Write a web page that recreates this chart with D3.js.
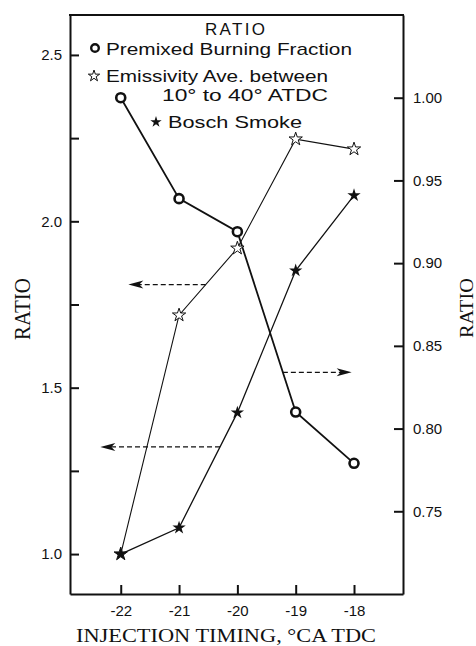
<!DOCTYPE html>
<html>
<head>
<meta charset="utf-8">
<script src="https://cdn.jsdelivr.net/npm/d3@7"></script>
<style>
  body { margin: 0; background: #fff; }
  svg { display: block; }
</style>
</head>
<body>
<div id="chart"></div>
<script>
// injection timing (°CA TDC)
let timing = [-22, -21, -20, -19, -18];

// series
let premixed = [1.000, 0.939, 0.919, 0.810, 0.779];   // right axis
let emissivity = [1.00, 1.718, 1.919, 2.247, 2.217];  // left axis
let bosch = [1.00, 1.079, 1.425, 1.852, 2.078];       // left axis

let leftTicks = [1.0, 1.5, 2.0, 2.5];
let leftMinor = [1.25, 1.75, 2.25];
let rightTicks = [0.75, 0.80, 0.85, 0.90, 0.95, 1.00];

// arrows: which series, value on its axis, x where arrow ends
let arrows = [
	{ series: "emissivity", value: 1.81, endX: -21.87 },
	{ series: "bosch", value: 1.322, endX: -22.35 },
	{ series: "premixed", value: 0.834, endX: -18.04 }
];

let width = 476, height = 646;
let plotL = 70, plotR = 403, plotT = 15, plotB = 594;

let svg = d3.select("#chart").append("svg")
	.attr("width", width)
	.attr("height", height);

let x = d3.scaleLinear().domain([-22.87, -17.16]).range([plotL, plotR]);
let yL = d3.scaleLinear().domain([0.88, 2.62]).range([plotB, plotT]);
let yR = d3.scaleLinear().domain([0.70, 1.05]).range([plotB, plotT]);

let sans = "'Liberation Sans', Arial, sans-serif";
let serif = "'Liberation Serif', 'DejaVu Serif', serif";

// axes
svg.append("g")
	.attr("transform", "translate(" + plotL + ",0)")
	.call(d3.axisLeft(yL).tickValues(leftTicks).tickFormat(d3.format(".1f"))
		.tickSize(-9).tickSizeOuter(0).tickPadding(8));

svg.append("g")
	.attr("transform", "translate(" + plotL + ",0)")
	.call(d3.axisLeft(yL).tickValues(leftMinor).tickFormat("")
		.tickSize(-9).tickSizeOuter(0))
	.select(".domain").remove();

svg.append("g")
	.attr("transform", "translate(" + plotR + ",0)")
	.call(d3.axisRight(yR).tickValues(rightTicks).tickFormat(d3.format(".2f"))
		.tickSize(-9).tickSizeOuter(0).tickPadding(10));

svg.append("g")
	.attr("transform", "translate(0," + plotB + ")")
	.call(d3.axisBottom(x).tickValues(timing).tickFormat(d => "-" + Math.abs(d))
		.tickSize(-9).tickSizeOuter(0).tickPadding(11));

svg.selectAll(".domain").attr("stroke-width", 2).attr("stroke", "#111");
svg.selectAll(".tick line").attr("stroke-width", 2).attr("stroke", "#111");
svg.selectAll(".tick text")
	.attr("font-family", sans)
	.attr("font-size", 15)
	.attr("fill", "#111");

// top frame line
svg.append("line")
	.attr("x1", plotL - 1).attr("x2", plotR + 1)
	.attr("y1", plotT).attr("y2", plotT)
	.attr("stroke", "#111").attr("stroke-width", 2);

// series lines
let lineL = d3.line().x((d, i) => x(timing[i])).y(d => yL(d));
let lineR = d3.line().x((d, i) => x(timing[i])).y(d => yR(d));

svg.append("path").datum(premixed)
	.attr("d", lineR).attr("fill", "none")
	.attr("stroke", "#111").attr("stroke-width", 1.8);

svg.append("path").datum(emissivity)
	.attr("d", lineL).attr("fill", "none")
	.attr("stroke", "#111").attr("stroke-width", 1.1);

svg.append("path").datum(bosch)
	.attr("d", lineL).attr("fill", "none")
	.attr("stroke", "#111").attr("stroke-width", 1.3);

// markers
let star = d3.symbol().type(d3.symbolStar);

svg.selectAll(".em").data(emissivity).enter()
	.append("path").attr("class", "em")
	.attr("d", star.size(55))
	.attr("transform", (d, i) => "translate(" + x(timing[i]) + "," + yL(d) + ")")
	.attr("fill", "#fff").attr("stroke", "#111").attr("stroke-width", 1);

svg.selectAll(".bo").data(bosch).enter()
	.append("path").attr("class", "bo")
	.attr("d", star.size(55))
	.attr("transform", (d, i) => "translate(" + x(timing[i]) + "," + yL(d) + ")")
	.attr("fill", "#111");

svg.selectAll(".pm").data(premixed).enter()
	.append("circle").attr("class", "pm")
	.attr("cx", (d, i) => x(timing[i]))
	.attr("cy", d => yR(d))
	.attr("r", 4.5)
	.attr("fill", "#fff").attr("stroke", "#111").attr("stroke-width", 2.6);

// arrows pointing to the relevant axis
let seriesData = { premixed: premixed, emissivity: emissivity, bosch: bosch };

function crossX(vals, v) {
	for (let i = 0; i < vals.length - 1; i++) {
		let a = vals[i], b = vals[i + 1];
		if ((v - a) * (v - b) <= 0 && a !== b) {
			return timing[i] + (v - a) / (b - a) * (timing[i + 1] - timing[i]);
		}
	}
	return timing[0];
}

arrows.forEach(a => {
	let ys = a.series === "premixed" ? yR : yL;
	let py = ys(a.value);
	let x0 = x(crossX(seriesData[a.series], a.value));
	let x1 = x(a.endX);
	let dir = x1 < x0 ? 1 : -1;
	svg.append("line")
		.attr("x1", x0).attr("x2", x1 + dir * 10)
		.attr("y1", py).attr("y2", py)
		.attr("stroke", "#111").attr("stroke-width", 1.3)
		.attr("stroke-dasharray", "5,3");
	svg.append("path")
		.attr("d", "M" + x1 + "," + py +
			"L" + (x1 + dir * 15) + "," + (py - 4) +
			"L" + (x1 + dir * 11) + "," + py +
			"L" + (x1 + dir * 15) + "," + (py + 4) + "Z")
		.attr("fill", "#111");
});

// legend
let legend = svg.append("g").attr("font-family", sans).attr("fill", "#111");

legend.append("text").attr("x", 205).attr("y", 35)
	.attr("font-size", 17).attr("textLength", 60).text("RATIO");

let legendRows = [
	{ label: "Premixed Burning Fraction", x: 106, y: 55, len: 246, mark: "circle", mx: 95, my: 48 },
	{ label: "Emissivity Ave. between", x: 106, y: 82, len: 222, mark: "open", mx: 94, my: 76 },
	{ label: "10° to 40° ATDC", x: 162, y: 101, len: 166, mark: null },
	{ label: "Bosch Smoke", x: 168, y: 128, len: 134, mark: "filled", mx: 156, my: 122 }
];

legendRows.forEach(r => {
	legend.append("text").attr("x", r.x).attr("y", r.y)
		.attr("font-size", 17)
		.attr("textLength", r.len).attr("lengthAdjust", "spacingAndGlyphs")
		.text(r.label);
	if (r.mark === "circle") {
		legend.append("circle").attr("cx", r.mx).attr("cy", r.my).attr("r", 3.8)
			.attr("fill", "#fff").attr("stroke", "#111").attr("stroke-width", 2.4);
	} else if (r.mark === "open") {
		legend.append("path").attr("d", star.size(40))
			.attr("transform", "translate(" + r.mx + "," + r.my + ")")
			.attr("fill", "#fff").attr("stroke", "#111").attr("stroke-width", 1);
	} else if (r.mark === "filled") {
		legend.append("path").attr("d", star.size(40))
			.attr("transform", "translate(" + r.mx + "," + r.my + ")")
			.attr("fill", "#111");
	}
});

// axis titles
svg.append("text")
	.attr("x", 76).attr("y", 642)
	.attr("font-family", serif).attr("font-size", 19)
	.attr("textLength", 300).attr("lengthAdjust", "spacingAndGlyphs")
	.attr("fill", "#111")
	.text("INJECTION TIMING, °CA TDC");

svg.append("text")
	.attr("transform", "translate(30,340) rotate(-90)")
	.attr("font-family", serif).attr("font-size", 23)
	.attr("textLength", 62).attr("lengthAdjust", "spacingAndGlyphs")
	.attr("fill", "#111")
	.text("RATIO");

svg.append("text")
	.attr("transform", "translate(473,338) rotate(-90)")
	.attr("font-family", serif).attr("font-size", 19)
	.attr("textLength", 60).attr("lengthAdjust", "spacingAndGlyphs")
	.attr("fill", "#111")
	.text("RATIO");
</script>
</body>
</html>
